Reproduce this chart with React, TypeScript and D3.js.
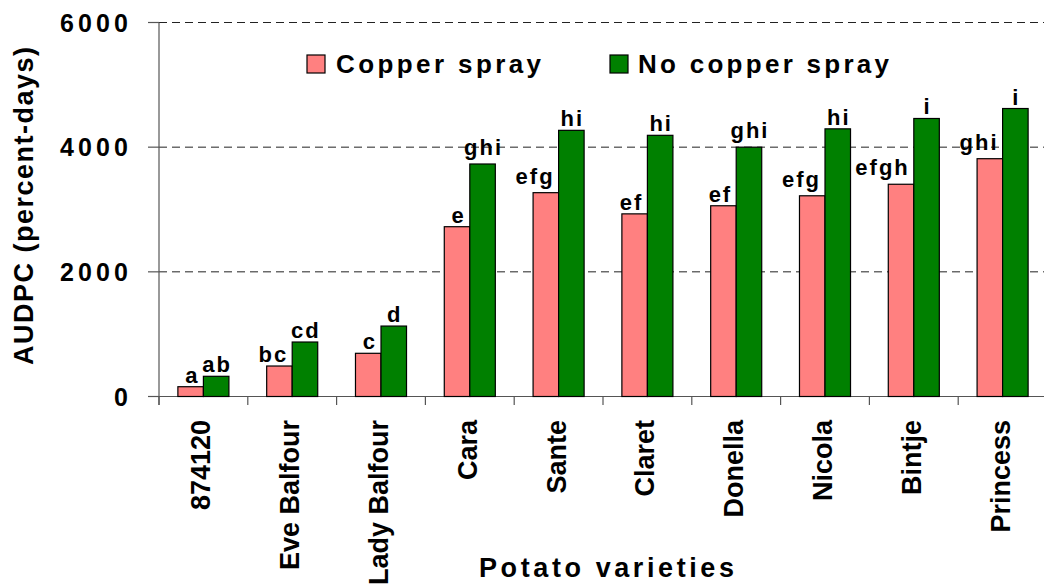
import React from 'react';
import * as d3 from 'd3';

// potato varieties on the x axis
const varieties = ['874120', 'Eve Balfour', 'Lady Balfour', 'Cara', 'Sante', 'Claret', 'Donella', 'Nicola', 'Bintje', 'Princess'];
const seriesNames = ['Copper spray', 'No copper spray'];

// AUDPC values
const copperValues = [157, 489, 693, 2724, 3270, 2930, 3060, 3220, 3405, 3815];
const noCopperValues = [324, 874, 1130, 3730, 4270, 4190, 4000, 4294, 4460, 4620];

// significance letters above the bars
const copperLetters = ['a', 'bc', 'c', 'e', 'efg', 'ef', 'ef', 'efg', 'efgh', 'ghi'];
const noCopperLetters = ['ab', 'cd', 'd', 'ghi', 'hi', 'hi', 'ghi', 'hi', 'i', 'i'];

const yTicks = [0, 2000, 4000, 6000];
const gridTicks = [2000, 4000, 6000];

const colors = ['#FF8080', '#008000'];
const FONT = '"Liberation Sans", Arial, sans-serif';

const App = () => {
    const width = 1044;
    const height = 586;
    const left = 159;
    const right = 1047;

    const x0 = d3.scaleBand().domain(varieties).range([left, right]).padding(0);
    const x1 = d3.scaleBand().domain(seriesNames).range([0, x0.bandwidth()]).paddingOuter(0.74).paddingInner(0);
    const y = d3.scaleLinear().domain([0, 6000]).range([396.5, 22.5]);

    const values = [copperValues, noCopperValues];
    const letters = [copperLetters, noCopperLetters];

    const boundaries = varieties.map(v => x0(v)).concat([right]);

    return (
        <svg width={width} height={height} style={{ position: 'absolute', left: 0, top: 0, background: '#fff' }}
            fontFamily={FONT} fontWeight="bold">
            {/* dashed gridlines */}
            {gridTicks.map(t => (
                <line key={'g' + t} x1={left} x2={width} y1={y(t)} y2={y(t)}
                    stroke="#222" strokeWidth={1} strokeDasharray="8,5" />
            ))}

            {/* y axis */}
            <line x1={left} x2={left} y1={y(6000)} y2={405} stroke="#555" strokeWidth={1.2} />
            {yTicks.map(t => (
                <g key={'yt' + t}>
                    <line x1={148} x2={left} y1={y(t)} y2={y(t)} stroke="#555" strokeWidth={1.2} />
                    <text x={128} y={y(t) + 9} textAnchor="end" fontSize={25}
                        textLength={String(t).length > 1 ? 68 : undefined} lengthAdjust="spacing">{t}</text>
                </g>
            ))}

            {/* x axis */}
            <line x1={148} x2={width} y1={y(0)} y2={y(0)} stroke="#555" strokeWidth={1.2} />
            {boundaries.map((b, i) => (
                <line key={'xt' + i} x1={b} x2={b} y1={y(0)} y2={405} stroke="#555" strokeWidth={1.2} />
            ))}

            {/* bars */}
            {varieties.map((v, i) => (
                <g key={v} transform={`translate(${x0(v)},0)`}>
                    {seriesNames.map((s, j) => (
                        <rect key={s} x={x1(s)} y={y(values[j][i])} width={x1.bandwidth()}
                            height={y(0) - y(values[j][i])} fill={colors[j]} stroke="#000" strokeWidth={1.2} />
                    ))}
                </g>
            ))}

            {/* letters */}
            {varieties.map((v, i) => seriesNames.map((s, j) => {
                const label = letters[j][i];
                const bx = x0(v) + x1(s);
                const lift = 4 + (/[gy]/.test(label) ? 5 : 0);
                const isCopper = j === 0;
                return (
                    <text key={v + s} x={isCopper ? bx + x1.bandwidth() - 4 : bx + x1.bandwidth() / 2 + 1}
                        y={y(values[j][i]) - lift} textAnchor={isCopper ? 'end' : 'middle'}
                        fontSize={22} letterSpacing={2}>{label}</text>
                );
            }))}

            {/* category labels */}
            {varieties.map(v => (
                <text key={'c' + v} transform={`translate(${x0(v) + x0.bandwidth() / 2 + 7},420) rotate(-90)`}
                    textAnchor="end" fontSize={27}>{v}</text>
            ))}

            {/* legend */}
            <rect x={307} y={55} width={18} height={18} fill={colors[0]} stroke="#000" strokeWidth={1.2} />
            <text x={336} y={73} fontSize={26} textLength={205} lengthAdjust="spacing">{seriesNames[0]}</text>
            <rect x={610} y={55} width={18} height={18} fill={colors[1]} stroke="#000" strokeWidth={1.2} />
            <text x={638} y={73} fontSize={26} textLength={251} lengthAdjust="spacing">{seriesNames[1]}</text>

            {/* axis titles */}
            <text transform="translate(33,206) rotate(-90)" textAnchor="middle" fontSize={27}
                textLength={318} lengthAdjust="spacing">AUDPC (percent-days)</text>
            <text x={606.5} y={577} textAnchor="middle" fontSize={27}
                textLength={255} lengthAdjust="spacing">Potato varieties</text>
        </svg>
    );
};

export default App;
